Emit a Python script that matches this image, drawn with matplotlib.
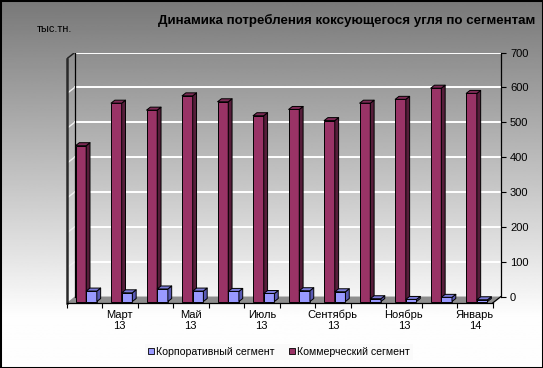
import numpy as np
import matplotlib
matplotlib.use("Agg")
import matplotlib.pyplot as plt
from matplotlib.patches import Patch, Rectangle, Polygon
from matplotlib.collections import PolyCollection

plt.rcParams['font.family'] = ['Liberation Sans', 'DejaVu Sans']

# ---- data ----
categories = ["Февраль\n13", "Март\n13", "Апрель\n13", "Май\n13", "Июнь\n13", "Июль\n13",
              "Август\n13", "Сентябрь\n13", "Октябрь\n13", "Ноябрь\n13", "Декабрь\n13",
              "Январь\n14"]
corporate = [30, 25, 36, 30, 29, 23, 31, 28, 8, 6, 12, 5]
commercial = [447, 569, 549, 590, 573, 533, 551, 519, 569, 580, 612, 597]
series_names = ["Корпоративный сегмент", "Коммерческий сегмент"]
y_ticks = [0, 100, 200, 300, 400, 500, 600, 700]
title = "Динамика потребления коксующегося угля по сегментам"
unit = "тыс.тн."

# ---- style ----
W, H = 543, 368
fig = plt.figure(figsize=(W / 100, H / 100), dpi=100)

# background gradient
bg = fig.add_axes([0, 0, 1, 1], zorder=-10)
yy = np.linspace(0, 1, 400)
g = np.clip(120 + 135 * yy / (320 / 368), 0, 254)
bg.imshow(g[:, None], cmap='gray', vmin=0, vmax=255, aspect='auto', extent=[0, 1, 0, 1])
bg.set_axis_off()

# main axes
left_px, right_px, bottom_px, top_px = 66.5, 501, 303, 52.5
ax = fig.add_axes([left_px / W, 1 - bottom_px / H, (right_px - left_px) / W, (bottom_px - top_px) / H])
ax.patch.set_alpha(0)

n = len(categories)
Dx = 0.234
ymax = 700
Dy = 18.6
f = 0.23   # front position of bars within depth
b = 0.46   # bar depth fraction
w = 0.3

ax.set_xlim(-0.5, n - 0.5 + Dx)
ax.set_ylim(0, ymax + Dy)

x0, x1 = -0.5, n - 0.5

# floor
ax.add_patch(Polygon([(x0, 0), (x1, 0), (x1 + Dx, Dy), (x0 + Dx, Dy)], closed=True,
                     facecolor='#8e8e8e', edgecolor='none', zorder=1))
# gridlines on back wall and left wall
for v in y_ticks[1:]:
    ax.plot([x0 + Dx, x1 + Dx], [v + Dy, v + Dy], color='white', lw=1.4, zorder=1.5)
    ax.plot([x0, x0 + Dx], [v, v + Dy], color='#f0f0f0', lw=1.0, zorder=1.5)
# back-left edge
ax.plot([x0 + Dx, x0 + Dx], [Dy, ymax + Dy], color='black', lw=0.9, zorder=1.6)
# left wall top diagonal
ax.plot([x0, x0 + Dx], [ymax, ymax + Dy], color='#222222', lw=1.2, zorder=1.6)
# right floor diagonal
ax.plot([x1, x1 + Dx], [0, Dy], color='black', lw=0.9, zorder=1.6)

colors = {
    'com': ('#993366', '#561d3a', '#7d2a55'),
    'cor': ('#9999ff', '#5a5ab4', '#7a7ad8'),
}

x = np.arange(n)


def draw_bar(xl, v, cols, z):
    front, side, top = cols
    by = f * Dy
    ax.bar(xl + f * Dx, v, width=w, bottom=by, align='edge', color=front,
           edgecolor='black', linewidth=0.7, zorder=z)
    xr = xl + f * Dx + w
    side_poly = [(xr, by), (xr + b * Dx, by + b * Dy), (xr + b * Dx, by + b * Dy + v), (xr, by + v)]
    xf = xl + f * Dx
    top_poly = [(xf, by + v), (xf + b * Dx, by + v + b * Dy), (xr + b * Dx, by + v + b * Dy), (xr, by + v)]
    pc = PolyCollection([side_poly, top_poly], facecolors=[side, top], edgecolors='black',
                        linewidths=0.7, zorder=z)
    ax.add_collection(pc)


z = 3
for i in range(n):
    draw_bar(x[i] - w, commercial[i], colors['com'], z)
    z += 0.01
    draw_bar(x[i], corporate[i], colors['cor'], z)
    z += 0.01

# spines
ax.spines['top'].set_visible(False)
ax.spines['left'].set_bounds(0, ymax)
ax.spines['left'].set_color('#2a2a2a')
ax.spines['left'].set_linewidth(1.8)
ax.spines['bottom'].set_bounds(x0, x1)
ax.spines['bottom'].set_linewidth(0.9)
ax.spines['right'].set_bounds(Dy, ymax + Dy)
ax.spines['right'].set_linewidth(0.9)

# y ticks on right (back wall)
ax.yaxis.tick_right()
ax.set_yticks([v + Dy for v in y_ticks])
ax.set_yticklabels([str(v) for v in y_ticks])
ax.tick_params(axis='y', direction='out', length=3.5, width=0.8, labelsize=8, pad=3)

# x ticks
ax.set_xticks(np.arange(n + 1) - 0.5)
ax.set_xticklabels([''] * (n + 1))
ax.tick_params(axis='x', which='major', direction='out', length=3.5, width=0.8)
ax.set_xticks(x, minor=True)
ax.set_xticklabels([c if i % 2 == 1 else '' for i, c in enumerate(categories)], minor=True,
                   fontsize=8, linespacing=1.1)
ax.tick_params(axis='x', which='minor', length=0, pad=5)

# title & unit
fig.text(535 / W, 1 - 20 / H, title, ha='right', va='center', fontsize=9.6, fontweight='bold')
fig.text(37 / W, 1 - 29 / H, unit, ha='left', va='center', fontsize=7.8)

# legend
handles = [Patch(facecolor=colors['cor'][0], edgecolor='black', linewidth=0.6),
           Patch(facecolor=colors['com'][0], edgecolor='black', linewidth=0.6)]
leg = fig.legend(handles, series_names, loc='center', bbox_to_anchor=(279 / W, 1 - 352 / H),
                 ncol=2, frameon=True, fontsize=7.6, handlelength=0.55, handleheight=0.55,
                 handletextpad=0.2, columnspacing=1.4, borderpad=0.3, fancybox=False)
leg.get_frame().set_facecolor('#fafafa')
leg.get_frame().set_edgecolor('none')

# outer border
fig.patches.append(Rectangle((0, 0), 1, 1, transform=fig.transFigure, fill=False,
                             edgecolor='black', linewidth=2.2))

fig.savefig('out.png', dpi=100)
